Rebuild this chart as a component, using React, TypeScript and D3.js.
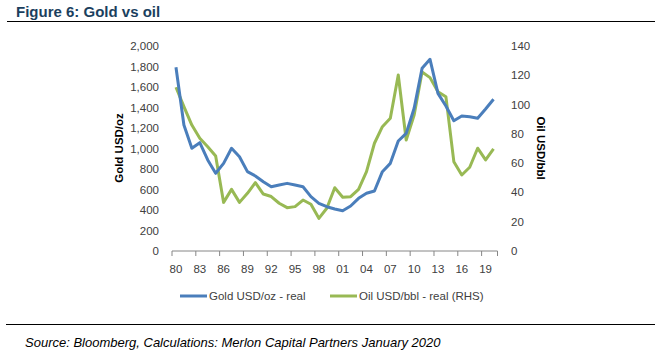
import React from "react";
import * as d3 from "d3";

const years = d3.range(1980, 2021);
const tickYears = [1980, 1983, 1986, 1989, 1992, 1995, 1998, 2001, 2004, 2007, 2010, 2013, 2016, 2019];
const goldValues = [1792, 1229, 1002, 1057, 888, 758, 855, 1002, 920, 774, 732, 676, 627, 644, 660, 644, 627, 530, 465, 432, 410, 393, 439, 514, 563, 585, 774, 855, 1073, 1148, 1392, 1782, 1870, 1538, 1415, 1271, 1317, 1310, 1295, 1385, 1480];
const oilValues = [111.8, 98.6, 86, 77, 71.2, 64.9, 33.2, 42.1, 33.2, 39.4, 46.7, 38.9, 37.2, 32.6, 29.6, 30.3, 34.8, 31.9, 22.3, 29.2, 43.2, 36.7, 37.1, 42.1, 54.2, 73.6, 84.9, 90.6, 120.2, 75.8, 92.9, 122.2, 118.4, 108.8, 105.4, 61, 51.9, 57.2, 70.2, 62.2, 69.7];
const leftTicks = d3.range(0, 2001, 200);
const rightTicks = d3.range(0, 141, 20);

const BLUE = "#4A7EBB";
const GREEN = "#98B954";
const FONT = "'Liberation Sans', Arial, sans-serif";

export default function App() {
  const x = d3.scaleBand<number>().domain(years).range([172, 497.5]);
  const yL = d3.scaleLinear().domain([0, 2000]).range([251, 46]);
  const yR = d3.scaleLinear().domain([0, 140]).range([251, 46]);
  const cx = (yr: number) => (x(yr) as number) + x.bandwidth() / 2;
  const goldLine = d3.line<number>().x((_, i) => cx(years[i])).y((d) => yL(d));
  const oilLine = d3.line<number>().x((_, i) => cx(years[i])).y((d) => yR(d));

  return (
    <svg width={661} height={355} style={{ position: "absolute", left: 0, top: 0, background: "#fff" }} fontFamily={FONT}>
      <text x={16} y={16.5} fontSize={15} fontWeight="bold" fill="#1B3F5E">Figure 6: Gold vs oil</text>
      <line x1={7} x2={655} y1={21.5} y2={21.5} stroke="#000" strokeWidth={1.2} />

      {leftTicks.map((t) => (
        <text key={"l" + t} x={159} y={yL(t)} dy="0.35em" textAnchor="end" fontSize={11.5} fill="#404040">{d3.format(",")(t)}</text>
      ))}
      {rightTicks.map((t) => (
        <text key={"r" + t} x={511} y={yR(t)} dy="0.35em" textAnchor="start" fontSize={11.5} fill="#404040">{t}</text>
      ))}
      <text transform={`translate(123,148) rotate(-90)`} textAnchor="middle" fontSize={11.5} fontWeight="bold" fill="#000">Gold USD/oz</text>
      <text transform={`translate(537,148) rotate(90)`} textAnchor="middle" fontSize={11.5} fontWeight="bold" fill="#000">Oil USD/bbl</text>

      <line x1={172} x2={497.5} y1={251} y2={251} stroke="#868686" strokeWidth={1} />
      {tickYears.map((yr) => (
        <line key={"t" + yr} x1={x(yr) as number} x2={x(yr) as number} y1={251} y2={256} stroke="#868686" strokeWidth={1} />
      ))}
      <line x1={497.5} x2={497.5} y1={251} y2={256} stroke="#868686" strokeWidth={1} />
      {tickYears.map((yr) => (
        <text key={"x" + yr} x={cx(yr)} y={268.5} dy="0.35em" textAnchor="middle" fontSize={11.5} fill="#404040">{String(yr).slice(2)}</text>
      ))}

      <path d={oilLine(oilValues) || ""} fill="none" stroke={GREEN} strokeWidth={3} strokeLinejoin="round" />
      <path d={goldLine(goldValues) || ""} fill="none" stroke={BLUE} strokeWidth={3} strokeLinejoin="round" />

      <line x1={180} x2={207} y1={296} y2={296} stroke={BLUE} strokeWidth={3} />
      <text x={209} y={296} dy="0.35em" fontSize={11.5} fill="#404040">Gold USD/oz - real</text>
      <line x1={330} x2={357} y1={296} y2={296} stroke={GREEN} strokeWidth={3} />
      <text x={359} y={296} dy="0.35em" fontSize={11.5} fill="#404040">Oil USD/bbl - real (RHS)</text>

      <line x1={6} x2={655} y1={324.5} y2={324.5} stroke="#000" strokeWidth={1.2} />
      <text x={25} y={342} dy="0.35em" fontSize={13} fontStyle="italic" fill="#000">Source: Bloomberg, Calculations: Merlon Capital Partners January 2020</text>
    </svg>
  );
}
